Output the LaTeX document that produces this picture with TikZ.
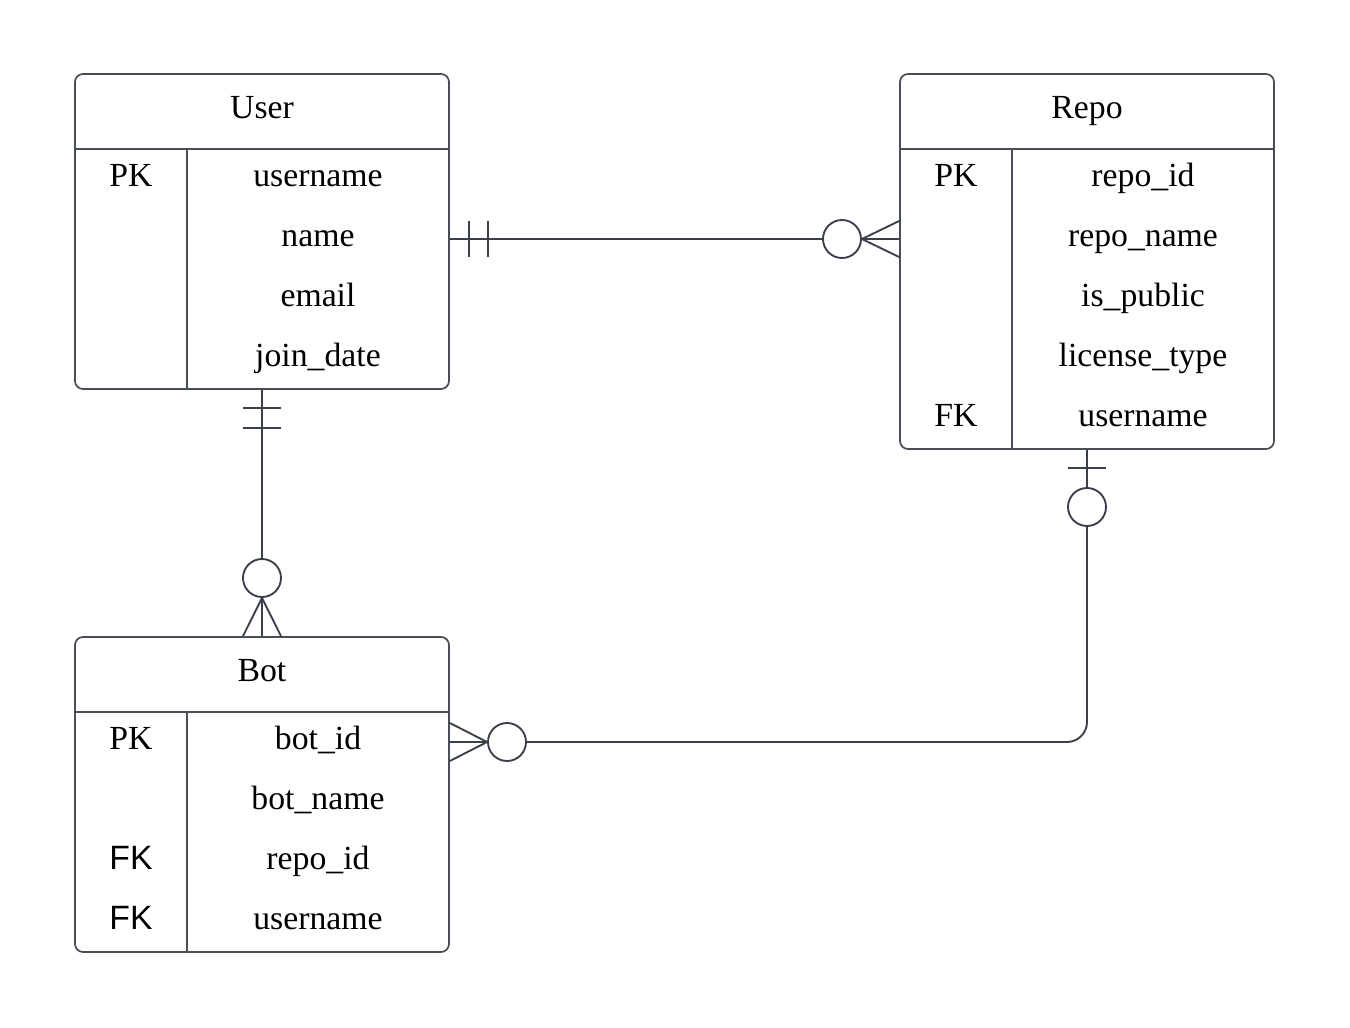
\documentclass[tikz,border=0pt]{standalone}
\usepackage{fontspec}
\setmainfont{Liberation Serif}
\newfontfamily\sansf{Liberation Sans}
\definecolor{ln}{HTML}{3A3F4A}
\definecolor{bx}{HTML}{4A4E57}
\begin{document}
\begin{tikzpicture}[x=0.75pt,y=-0.75pt,
  box/.style={draw=bx, line width=1.3pt, rounded corners=6pt, minimum width=280.5pt, inner sep=0pt, fill=white},
  sep/.style={draw=bx, line width=1.3pt},
  txt/.style={anchor=base, inner sep=0pt, text=black, font=\fontsize{25.3}{30}\selectfont},
  stxt/.style={txt, font=\sansf\fontsize{25.3}{30}\selectfont},
  conn/.style={draw=ln, line width=1.4pt},
  ring/.style={draw=ln, line width=1.4pt, fill=white}]
\useasboundingbox[fill=white] (0,0) rectangle (1350,1028);

% ---------- User ----------
\node[box, minimum height=236.25pt] (user) at (262,231.5) {};
\coordinate (uh) at (75,149);
\coordinate (ud) at (187,149);
\draw[sep] (user.west |- uh) -- (user.east |- uh);
\draw[sep] (ud) -- (ud |- user.south);
\node[txt] (utitle) at (262,118.5) {User};
\node[txt] (upk) at (131,186.5) {PK};
\node[txt] (u1) at (318,186.5) {username};
\node[txt] (u2) at (318,246.5) {name};
\node[txt] (u3) at (318,306.5) {email};
\node[txt] (u4) at (318,366.5) {join\_date};

% ---------- Repo ----------
\node[box, minimum height=281.25pt] (repo) at (1087,261.5) {};
\coordinate (rh) at (900,149);
\coordinate (rd) at (1012,149);
\draw[sep] (repo.west |- rh) -- (repo.east |- rh);
\draw[sep] (rd) -- (rd |- repo.south);
\node[txt] (rtitle) at (1087,118.5) {Repo};
\node[txt] (rpk) at (956,186.5) {PK};
\node[txt] (rfk) at (956,426.5) {FK};
\node[txt] (r1) at (1143,186.5) {repo\_id};
\node[txt] (r2) at (1143,246.5) {repo\_name};
\node[txt] (r3) at (1143,306.5) {is\_public};
\node[txt] (r4) at (1143,366.5) {license\_type};
\node[txt] (r5) at (1143,426.5) {username};

% ---------- Bot ----------
\node[box, minimum height=236.25pt] (bot) at (262,794.5) {};
\coordinate (bh) at (75,712);
\coordinate (bd) at (187,712);
\draw[sep] (bot.west |- bh) -- (bot.east |- bh);
\draw[sep] (bd) -- (bd |- bot.south);
\node[txt] (btitle) at (262,681.5) {Bot};
\node[txt] (bpk) at (131,749.5) {PK};
\node[stxt] (bfk1) at (131,869.5) {FK};
\node[stxt] (bfk2) at (131,929.5) {FK};
\node[txt] (b1) at (318,749.5) {bot\_id};
\node[txt] (b2) at (318,809.5) {bot\_name};
\node[txt] (b3) at (318,869.5) {repo\_id};
\node[txt] (b4) at (318,929.5) {username};

% ---------- User -- Repo ----------
\coordinate (c1) at (823,239);
\draw[conn] (user.east |- c1) -- (c1);
\draw[conn] (469,221) -- (469,257);
\draw[conn] (488,221) -- (488,257);
\node[ring, circle, minimum size=28.5pt, inner sep=0pt] (o1) at (842,239) {};
\draw[conn] (o1.east) -- (repo.west |- 0,221);
\draw[conn] (o1.east) -- (repo.west |- o1.east);
\draw[conn] (o1.east) -- (repo.west |- 0,257);

% ---------- User -- Bot ----------
\node[ring, circle, minimum size=28.5pt, inner sep=0pt] (o2) at (262,578) {};
\draw[conn] (user.south) -- (o2.north);
\draw[conn] (243,408) -- (281,408);
\draw[conn] (243,428) -- (281,428);
\draw[conn] (o2.south) -- (bot.north -| 243,0);
\draw[conn] (o2.south) -- (bot.north);
\draw[conn] (o2.south) -- (bot.north -| 281,0);

% ---------- Repo -- Bot ----------
\node[ring, circle, minimum size=28.5pt, inner sep=0pt] (o3) at (1087,507) {};
\node[ring, circle, minimum size=28.5pt, inner sep=0pt] (o4) at (507,742) {};
\draw[conn] (repo.south) -- (o3.north);
\draw[conn] (1068,468) -- (1106,468);
\draw[conn, rounded corners=15pt] (o3.south) |- (o4.east);
\draw[conn] (o4.west) -- (bot.east |- 0,723);
\draw[conn] (o4.west) -- (bot.east |- o4.west);
\draw[conn] (o4.west) -- (bot.east |- 0,761);
\end{tikzpicture}
\end{document}
